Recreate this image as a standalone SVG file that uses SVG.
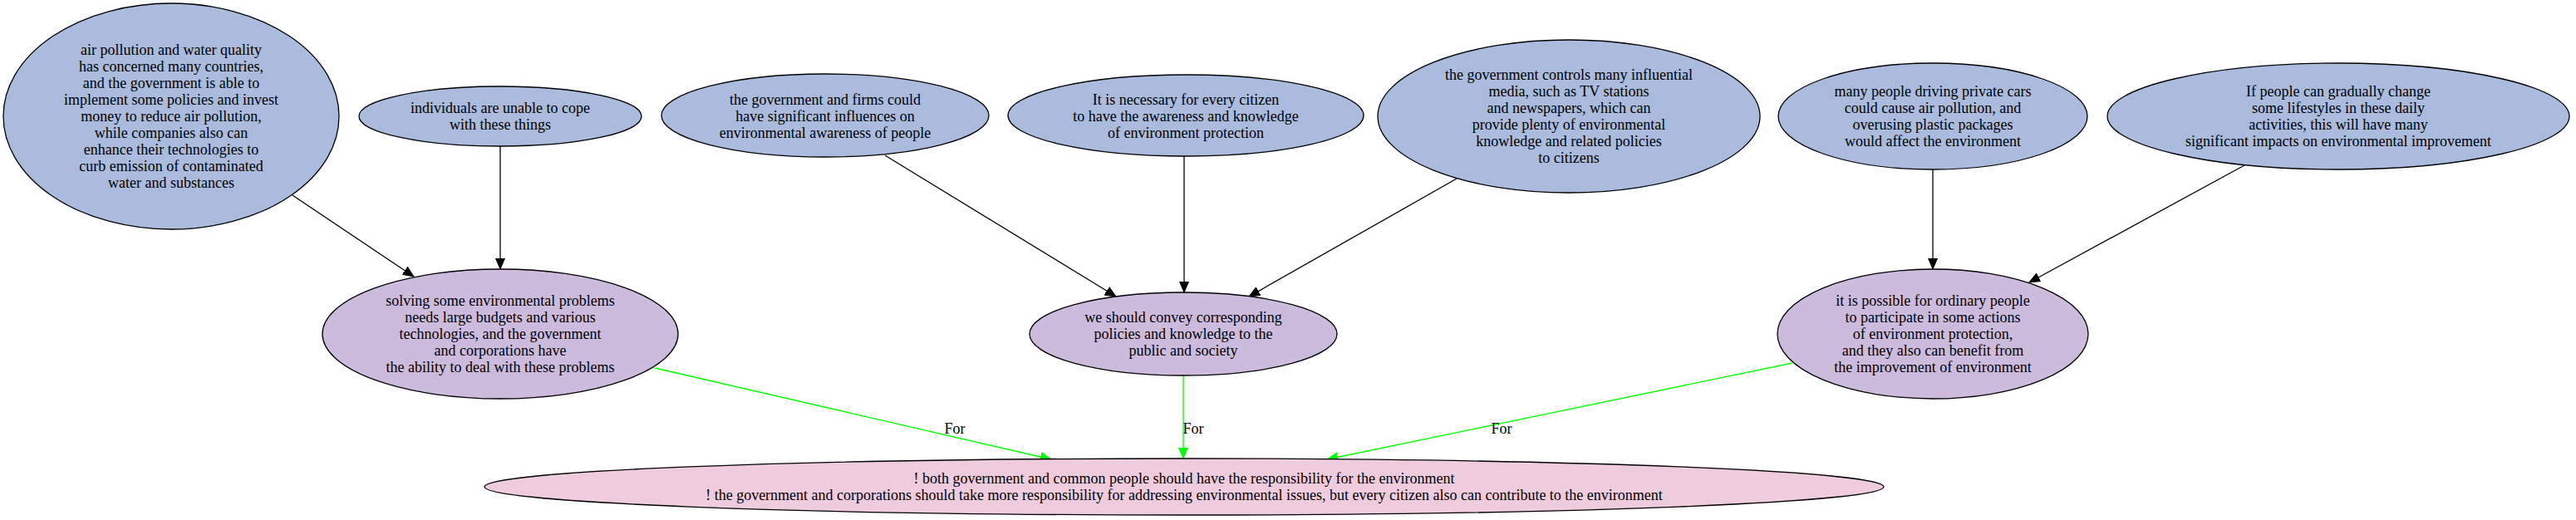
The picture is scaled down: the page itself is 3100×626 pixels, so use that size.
<svg xmlns="http://www.w3.org/2000/svg" width="3100" height="626" viewBox="0 0 3100 626">
<style>
  text { font-family: "Liberation Serif", "Times New Roman", serif; font-size: 18px; text-anchor: middle; fill: #000; }
  .n ellipse { stroke: #000; stroke-width: 1.3; }
  .prem ellipse { fill: #aabbdd; }
  .claim ellipse { fill: #ccbbdd; }
  .main ellipse { fill: #eeccdd; }
  .e { stroke: #000; stroke-width: 1.3; fill: none; marker-end: url(#ab); }
  .g { stroke: #00ff00; stroke-width: 1.3; fill: none; marker-end: url(#ag); }
</style>
<defs>
  <marker id="ab" markerUnits="userSpaceOnUse" markerWidth="14" markerHeight="12" refX="13" refY="5.5" orient="auto" viewBox="0 0 14 11">
    <path d="M0,0 L13,5.5 L0,11 z" fill="#000" stroke="#000" stroke-width="1"/>
  </marker>
  <marker id="ag" markerUnits="userSpaceOnUse" markerWidth="14" markerHeight="12" refX="13" refY="5.5" orient="auto" viewBox="0 0 14 11">
    <path d="M0,0 L13,5.5 L0,11 z" fill="#00ff00" stroke="#00ff00" stroke-width="1"/>
  </marker>
</defs>
<rect width="3100" height="626" fill="#fff"/>

<g id="connectors">
  <line class="e" x1="352" y1="235" x2="498" y2="333"/>
  <line class="e" x1="602" y1="176" x2="602" y2="324"/>
  <line class="e" x1="1065" y1="187" x2="1343" y2="357"/>
  <line class="e" x1="1425" y1="188" x2="1425" y2="352"/>
  <line class="e" x1="1753" y1="215" x2="1503" y2="357"/>
  <line class="e" x1="2326" y1="204" x2="2326" y2="324"/>
  <line class="e" x1="2701" y1="199" x2="2442" y2="340"/>
  <line class="g" x1="788" y1="443" x2="1265" y2="553"/>
  <line class="g" x1="1424" y1="452" x2="1424" y2="552"/>
  <line class="g" x1="2157" y1="437" x2="1597" y2="553"/>
  <text x="1149" y="522">For</text>
  <text x="1436" y="522">For</text>
  <text x="1807" y="522">For</text>
</g>

<g id="nA" class="n prem">
  <ellipse cx="206" cy="140" rx="202" ry="136"/>
  <text x="206" y="66">air pollution and water quality</text>
  <text x="206" y="86">has concerned many countries,</text>
  <text x="206" y="106">and the government is able to</text>
  <text x="206" y="126">implement some policies and invest</text>
  <text x="206" y="146">money to reduce air pollution,</text>
  <text x="206" y="166">while companies also can</text>
  <text x="206" y="186">enhance their technologies to</text>
  <text x="206" y="206">curb emission of contaminated</text>
  <text x="206" y="226">water and substances</text>
</g>

<g id="nB" class="n prem">
  <ellipse cx="602" cy="140" rx="170" ry="36"/>
  <text x="602" y="136">individuals are unable to cope</text>
  <text x="602" y="156">with these things</text>
</g>

<g id="nC" class="n prem">
  <ellipse cx="993" cy="139" rx="197" ry="50"/>
  <text x="993" y="126">the government and firms could</text>
  <text x="993" y="146">have significant influences on</text>
  <text x="993" y="166">environmental awareness of people</text>
</g>

<g id="nD" class="n prem">
  <ellipse cx="1427" cy="139" rx="214" ry="49"/>
  <text x="1427" y="126">It is necessary for every citizen</text>
  <text x="1427" y="146">to have the awareness and knowledge</text>
  <text x="1427" y="166">of environment protection</text>
</g>

<g id="nE" class="n prem">
  <ellipse cx="1888" cy="140" rx="230" ry="92"/>
  <text x="1888" y="96">the government controls many influential</text>
  <text x="1888" y="116">media, such as TV stations</text>
  <text x="1888" y="136">and newspapers, which can</text>
  <text x="1888" y="156">provide plenty of environmental</text>
  <text x="1888" y="176">knowledge and related policies</text>
  <text x="1888" y="196">to citizens</text>
</g>

<g id="nF" class="n prem">
  <ellipse cx="2326" cy="140" rx="186" ry="64"/>
  <text x="2326" y="116">many people driving private cars</text>
  <text x="2326" y="136">could cause air pollution, and</text>
  <text x="2326" y="156">overusing plastic packages</text>
  <text x="2326" y="176">would affect the environment</text>
</g>

<g id="nG" class="n prem">
  <ellipse cx="2814" cy="140" rx="278" ry="64"/>
  <text x="2814" y="116">If people can gradually change</text>
  <text x="2814" y="136">some lifestyles in these daily</text>
  <text x="2814" y="156">activities, this will have many</text>
  <text x="2814" y="176">significant impacts on environmental improvement</text>
</g>

<g id="nH" class="n claim">
  <ellipse cx="602" cy="402" rx="214" ry="78"/>
  <text x="602" y="368">solving some environmental problems</text>
  <text x="602" y="388">needs large budgets and various</text>
  <text x="602" y="408">technologies, and the government</text>
  <text x="602" y="428">and corporations have</text>
  <text x="602" y="448">the ability to deal with these problems</text>
</g>

<g id="nI" class="n claim">
  <ellipse cx="1424" cy="402" rx="185" ry="50"/>
  <text x="1424" y="388">we should convey corresponding</text>
  <text x="1424" y="408">policies and knowledge to the</text>
  <text x="1424" y="428">public and society</text>
</g>

<g id="nJ" class="n claim">
  <ellipse cx="2326" cy="402" rx="187" ry="78"/>
  <text x="2326" y="368">it is possible for ordinary people</text>
  <text x="2326" y="388">to participate in some actions</text>
  <text x="2326" y="408">of environment protection,</text>
  <text x="2326" y="428">and they also can benefit from</text>
  <text x="2326" y="448">the improvement of environment</text>
</g>

<g id="nK" class="n main">
  <ellipse cx="1425" cy="586" rx="842" ry="34"/>
  <text x="1425" y="582">! both government and common people should have the responsibility for the environment</text>
  <text x="1425" y="602">! the government and corporations should take more responsibility for addressing environmental issues, but every citizen also can contribute to the environment</text>
</g>
</svg>
